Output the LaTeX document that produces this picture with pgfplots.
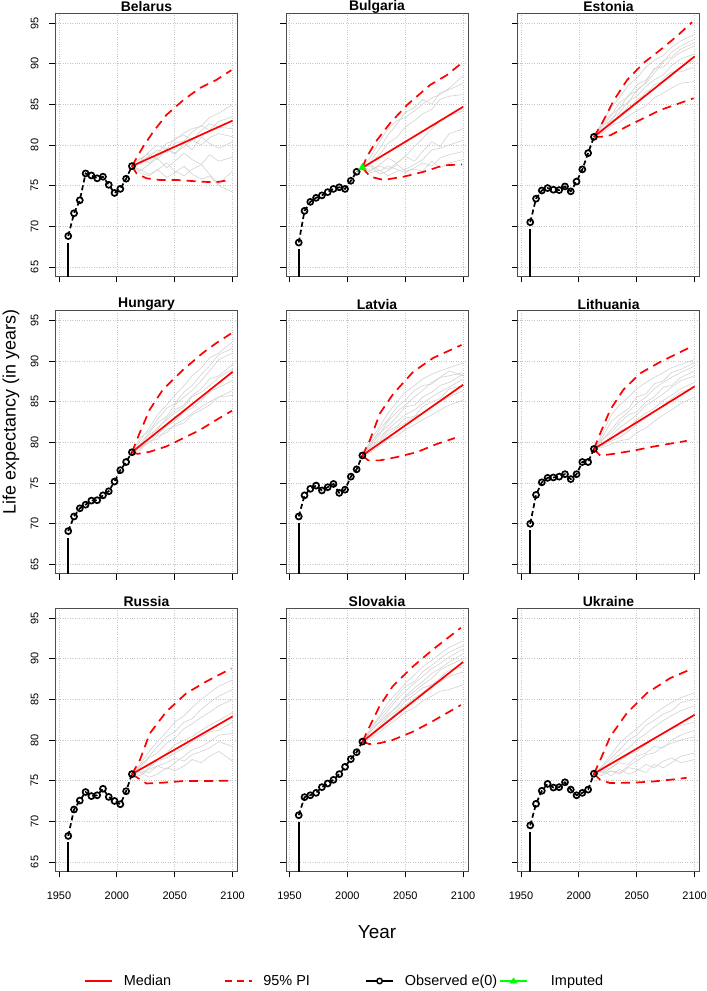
\documentclass[border=0pt]{standalone}
\usepackage{fontspec}
\setmainfont{Liberation Sans}
\usepackage{pgfplots}
\usepackage{pgfplotstable}
\pgfplotsset{compat=1.18}

\pgfplotsset{
 panel/.style={scale only axis, width=182bp, height=263bp, anchor=north west,
   xmin=1947, xmax=2104.2, ymin=63.85, ymax=96.2,
   xtick={1950,2000,2050,2100}, ytick={65,70,75,80,85,90,95},
   xticklabels={}, yticklabels={},
   tick pos=left, tick align=outside, major tick length=6bp,
   grid=major, grid style={dotted, gray!45, line width=0.7bp},
   axis line style={black!70, line width=0.8bp},
   tick style={black, line width=0.8bp},
   title style={at={(0.5,1)}, anchor=center, yshift=0.5bp, font=\bfseries\fontsize{14}{16}\selectfont},
   ticklabel style={font=\fontsize{11}{13}\selectfont}},
 leftcol/.style={yticklabels={65,70,75,80,85,90,95}, yticklabel style={xshift=-15bp, rotate=90, anchor=center}},
 bottomrow/.style={xticklabels={1950,2000,2050,2100}, xticklabel style={anchor=center, yshift=-18bp}},
 obs/.style={black, line width=1.7bp, dash pattern=on 5bp off 3bp, mark=o, mark size=3bp, mark options={solid, fill=white, line width=1.7bp}},
 vline/.style={black, line width=1.7bp},
 traj/.style={gray!35, line width=0.6bp},
 med/.style={red, line width=1.7bp},
 pi/.style={red, line width=1.7bp, dash pattern=on 9bp off 6bp},
}

% gray trajectories (x, t1..t8)
\pgfplotstableread{
x t1 t2 t3 t4 t5 t6 t7 t8
2013 77.4 77.4 77.4 77.4 77.4 77.4 77.4 77.4
2020 78.3 77.6 78.4 76.8 77.0 78.0 76.6 77.8
2028 79.0 78.6 77.8 77.6 76.4 79.2 76.2 78.8
2035 79.0 79.4 78.6 78.4 76.9 80.0 77.0 78.2
2043 80.2 79.0 79.5 77.2 77.8 79.4 76.0 79.6
2050 80.6 80.2 79.0 78.0 76.8 80.8 76.6 78.8
2058 81.5 80.5 79.8 79.0 76.2 81.2 77.4 80.2
2065 82.0 81.6 80.6 78.2 77.0 80.6 76.4 79.4
2073 82.3 82.4 80.0 77.6 77.6 81.8 75.8 81.0
2080 83.4 81.8 80.9 78.8 76.4 82.6 76.2 80.2
2088 83.9 82.9 81.4 78.0 75.2 82.2 75.0 79.6
2100 85.0 83.5 81.0 78.5 76.8 82.0 74.2 80.4
}\trBel
\pgfplotstableread{
x t1 t2 t3 t4 t5 t6 t7 t8
2013 77.2 77.2 77.2 77.2 77.2 77.2 77.2 77.2
2020 78.5 77.8 77.0 76.6 77.6 78.0 76.8 77.4
2028 80.5 78.8 77.4 76.9 76.8 79.6 77.6 76.4
2035 82.0 80.2 77.0 76.2 77.4 81.2 78.4 76.8
2043 83.0 81.0 77.8 76.8 77.0 82.6 77.8 77.6
2050 83.4 82.2 78.6 77.0 76.6 84.0 78.6 76.8
2058 84.2 83.0 79.8 77.6 77.2 84.6 78.0 77.0
2065 85.0 83.8 80.8 78.2 77.8 85.6 79.2 76.8
2073 85.8 84.4 82.0 79.4 77.4 85.0 80.4 78.0
2080 86.2 85.6 83.0 79.6 78.4 86.4 79.8 77.2
2088 87.0 86.0 83.6 80.0 78.8 86.8 81.4 77.8
2100 88.5 86.2 84.2 80.6 79.2 87.6 82.0 78.2
}\trBul
\pgfplotstableread{
x t1 t2 t3 t4 t5 t6 t7 t8
2013 81.0 81.0 81.0 81.0 81.0 81.0 81.0 81.0
2020 82.8 82.2 81.8 82.0 81.4 82.4 81.6 82.6
2028 84.6 83.6 83.2 82.6 82.4 83.0 83.0 83.8
2035 85.8 85.2 84.0 83.8 82.8 84.6 83.4 84.4
2043 87.4 86.0 85.4 84.4 83.6 85.2 84.8 86.2
2050 88.2 87.4 86.0 85.6 84.2 86.8 85.0 86.6
2058 89.6 88.0 87.2 86.2 84.8 87.6 86.6 87.8
2065 90.4 89.2 88.0 87.4 85.8 88.8 86.8 89.4
2073 91.0 90.4 88.6 87.8 86.4 90.2 88.2 89.6
2080 92.0 90.8 89.8 88.8 87.0 91.4 89.0 90.6
2088 92.8 91.8 90.6 89.6 87.6 92.2 89.0 91.4
2100 93.6 92.6 91.2 90.4 87.8 93.0 89.6 92.2
}\trEst
\pgfplotstableread{
x t1 t2 t3 t4 t5 t6 t7 t8
2013 78.8 78.8 78.8 78.8 78.8 78.8 78.8 78.8
2020 80.2 79.8 79.6 79.2 79.4 80.6 79.0 79.6
2028 81.8 81.2 80.6 80.4 80.0 81.4 80.2 81.0
2035 83.4 82.4 81.8 81.0 80.8 82.8 80.4 81.6
2043 84.6 83.2 82.8 82.0 81.2 84.2 81.6 83.0
2050 85.8 84.6 83.6 82.6 82.2 84.8 82.0 84.0
2058 87.0 85.6 84.4 83.8 82.8 86.2 82.4 84.6
2065 88.2 86.4 85.6 84.2 83.6 87.0 83.4 85.8
2073 89.2 87.6 86.2 85.2 84.4 88.4 84.0 86.6
2080 90.4 88.8 87.0 86.2 85.0 89.4 84.6 87.8
2088 91.0 90.2 88.0 86.8 85.6 90.8 85.6 88.2
2100 92.4 91.0 89.0 87.6 86.4 91.6 85.8 89.6
}\trHun
\pgfplotstableread{
x t1 t2 t3 t4 t5 t6 t7 t8
2013 78.4 78.4 78.4 78.4 78.4 78.4 78.4 78.4
2020 80.2 79.6 79.2 79.0 78.8 79.8 79.4 80.0
2028 82.0 81.0 80.6 80.0 79.6 81.6 80.2 81.2
2035 83.6 82.6 81.6 81.0 80.4 82.8 81.4 82.0
2043 85.0 83.8 82.6 81.8 80.8 84.4 82.0 83.2
2050 86.2 84.6 83.4 82.4 81.6 85.2 83.0 84.4
2058 87.0 85.6 84.0 83.2 82.2 86.4 83.2 84.6
2065 87.8 86.4 84.8 83.6 82.8 87.0 84.4 85.6
2073 88.4 87.4 85.6 84.4 83.4 87.2 85.0 86.2
2080 88.8 88.0 86.2 85.0 84.0 88.0 85.4 87.0
2088 89.2 88.2 86.8 85.6 84.6 88.8 86.6 87.4
2100 89.8 88.6 87.8 86.4 85.2 88.2 87.0 88.4
}\trLat
\pgfplotstableread{
x t1 t2 t3 t4 t5 t6 t7 t8
2013 79.2 79.2 79.2 79.2 79.2 79.2 79.2 79.2
2020 81.0 80.2 79.8 79.6 79.4 80.6 79.8 80.4
2028 83.4 81.6 80.8 80.2 79.8 82.6 80.4 81.2
2035 84.6 82.8 81.8 80.6 80.2 83.4 81.4 82.4
2043 85.6 83.8 82.6 81.4 80.4 84.2 81.8 83.4
2050 86.6 84.8 83.4 82.2 81.2 85.6 82.8 83.8
2058 87.4 85.6 84.6 83.0 81.8 86.0 83.6 85.0
2065 88.0 86.6 85.2 83.8 82.6 87.2 84.2 85.6
2073 88.6 87.4 86.0 84.6 83.4 87.6 85.2 86.8
2080 89.2 88.0 86.8 85.4 84.0 88.6 85.8 87.0
2088 89.6 88.6 87.6 86.2 84.8 89.0 86.6 88.0
2100 90.2 89.4 88.2 86.8 85.6 89.8 87.4 88.8
}\trLit
\pgfplotstableread{
x t1 t2 t3 t4 t5 t6 t7 t8
2013 75.8 75.8 75.8 75.8 75.8 75.8 75.8 75.8
2020 77.0 76.6 76.4 75.6 76.0 76.8 75.8 76.2
2028 78.6 77.8 76.8 76.4 75.4 78.0 76.6 76.0
2035 79.8 78.4 77.6 76.8 75.8 79.2 77.4 76.8
2043 81.0 79.6 78.4 76.4 76.6 80.4 77.8 77.2
2050 82.2 80.2 79.4 77.2 76.2 81.0 78.4 77.8
2058 83.0 81.4 80.0 78.0 76.8 82.2 79.0 77.4
2065 84.0 82.0 80.4 78.8 77.6 82.6 79.8 78.2
2073 85.0 82.8 81.2 79.2 77.2 83.8 80.4 78.6
2080 85.8 83.4 81.8 79.8 78.0 84.6 81.0 79.0
2088 86.6 84.2 82.4 80.6 78.6 85.4 81.2 79.8
2100 87.4 85.0 83.4 80.8 77.4 86.2 82.2 79.2
}\trRus
\pgfplotstableread{
x t1 t2 t3 t4 t5 t6 t7 t8
2013 79.8 79.8 79.8 79.8 79.8 79.8 79.8 79.8
2020 81.4 81.0 80.6 80.4 80.2 81.2 80.6 81.0
2028 83.0 82.4 81.8 81.4 81.0 82.8 81.4 82.2
2035 84.6 83.6 83.0 82.4 81.8 84.0 82.8 83.2
2043 85.8 85.0 84.2 83.4 82.6 85.4 83.6 84.0
2050 87.0 86.0 85.2 84.2 83.4 86.6 84.8 85.4
2058 88.0 87.0 86.0 85.2 84.0 87.2 85.6 86.4
2065 89.0 87.8 86.8 85.8 84.8 88.4 86.4 87.2
2073 89.8 88.8 87.6 86.8 85.4 89.2 86.8 88.2
2080 90.6 89.4 88.6 87.2 86.0 90.0 87.6 88.8
2088 91.4 90.2 89.2 87.8 86.2 90.8 88.6 89.6
2100 92.2 91.2 90.0 88.4 86.8 91.6 89.0 90.6
}\trSlo
\pgfplotstableread{
x t1 t2 t3 t4 t5 t6 t7 t8
2013 75.85 75.85 75.85 75.85 75.85 75.85 75.85 75.85
2020 76.8 76.4 76.2 75.6 76.2 76.6 75.8 76.0
2028 78.2 77.4 76.6 76.2 75.6 77.8 76.6 76.2
2035 79.6 78.2 77.4 76.0 76.4 78.8 77.2 75.8
2043 80.6 79.0 78.2 76.8 75.8 80.0 77.0 76.6
2050 81.4 80.0 78.6 77.4 76.2 80.6 78.0 76.4
2058 82.4 80.8 79.4 78.2 77.0 81.8 78.4 76.0
2065 83.2 81.6 80.2 78.4 76.6 82.4 79.2 77.0
2073 84.0 82.4 80.8 79.2 77.4 83.2 79.0 76.6
2080 84.6 83.0 81.4 79.6 77.8 83.6 80.0 77.2
2088 85.2 83.6 81.8 80.0 77.2 84.6 80.6 78.0
2100 85.8 84.2 82.2 80.4 77.6 85.0 81.2 78.4
}\trUkr

\begin{document}
\begin{tikzpicture}
\useasboundingbox (0,0) rectangle (707bp,991bp);

% ---------- Belarus
\begin{axis}[panel, leftcol, at={(55.5bp,977.7bp)}, title={Belarus}]
\pgfplotsinvokeforeach{t1,t2,t3,t4,t5,t6,t7,t8}{\addplot[traj] table[x=x,y=#1]{\trBel};}
\addplot[vline] coordinates {(1958,60) (1958,68.0)};
\addplot[obs] coordinates {(1958,68.8)(1963,71.6)(1968,73.2)(1973,76.5)(1978,76.25)(1983,75.9)(1988,76.1)(1993,75.1)(1998,74.1)(2003,74.6)(2008,75.85)(2013,77.4)};
\addplot[pi] coordinates {(2013,77.4)(2022.7,79.8)(2031.3,81.6)(2042.8,83.7)(2057.2,85.5)(2071.6,87.0)(2085.9,88.0)(2098.9,89.2)};
\addplot[pi] coordinates {(2013,77.4)(2017,76.5)(2025.6,75.9)(2037,75.7)(2051.4,75.7)(2071.6,75.5)(2085,75.4)(2097.4,75.7)};
\addplot[med] coordinates {(2013,77.4)(2100,83.0)};
\end{axis}

% ---------- Bulgaria
\begin{axis}[panel, at={(286bp,977.7bp)}, title={Bulgaria}]
\pgfplotsinvokeforeach{t1,t2,t3,t4,t5,t6,t7,t8}{\addplot[traj] table[x=x,y=#1]{\trBul};}
\addplot[vline] coordinates {(1958,60) (1958,67.2)};
\addplot[obs] coordinates {(1958,68.0)(1963,71.9)(1968,73.0)(1973,73.5)(1978,73.8)(1983,74.2)(1988,74.6)(1993,74.8)(1998,74.6)(2003,75.6)(2008,76.7)};
\addplot[green, line width=1.7bp, mark=triangle*, mark indices={2}, mark size=3.2bp, mark options={fill=green}] coordinates {(2008,76.7)(2013,77.2)};
\addplot[pi] coordinates {(2013,77.2)(2017,78.6)(2025.6,80.6)(2037,82.7)(2051.4,84.9)(2071.6,87.4)(2086,88.6)(2098.9,90.1)};
\addplot[pi] coordinates {(2013,77.2)(2019.8,76.1)(2031.3,75.7)(2048.6,76.1)(2065.8,76.7)(2083,77.5)(2098.9,77.6)};
\addplot[med] coordinates {(2013,77.2)(2100,84.7)};
\end{axis}

% ---------- Estonia
\begin{axis}[panel, at={(517.5bp,977.7bp)}, title={Estonia}]
\pgfplotsinvokeforeach{t1,t2,t3,t4,t5,t6,t7,t8}{\addplot[traj] table[x=x,y=#1]{\trEst};}
\addplot[vline] coordinates {(1958,60) (1958,69.7)};
\addplot[obs] coordinates {(1958,70.5)(1963,73.4)(1968,74.4)(1973,74.7)(1978,74.5)(1983,74.45)(1988,74.9)(1993,74.3)(1998,75.5)(2003,77.0)(2008,79.0)(2013,81.0)};
\addplot[pi] coordinates {(2013,81.0)(2020.1,82.7)(2030.2,85.5)(2041.7,88.0)(2056,90.1)(2070.4,91.7)(2084.8,93.4)(2097.7,95.1)};
\addplot[pi] coordinates {(2013,81.0)(2018.7,81.0)(2027.3,81.2)(2041.7,82.3)(2056,83.3)(2070.4,84.3)(2099.1,85.75)};
\addplot[med] coordinates {(2013,81.0)(2100,90.9)};
\end{axis}

% ---------- Hungary
\begin{axis}[panel, leftcol, at={(55.5bp,680.2bp)}, title={Hungary}]
\pgfplotsinvokeforeach{t1,t2,t3,t4,t5,t6,t7,t8}{\addplot[traj] table[x=x,y=#1]{\trHun};}
\addplot[vline] coordinates {(1958,60) (1958,68.3)};
\addplot[obs] coordinates {(1958,69.1)(1963,70.9)(1968,71.9)(1973,72.35)(1978,72.85)(1983,72.9)(1988,73.5)(1993,74.0)(1998,75.2)(2003,76.6)(2008,77.6)(2013,78.8)};
\addplot[pi] coordinates {(2013,78.8)(2019.5,81.1)(2028.2,84.0)(2039.7,86.5)(2056.9,88.9)(2074.1,91.0)(2085.6,92.2)(2098.6,93.4)};
\addplot[pi] coordinates {(2013,78.8)(2018,78.6)(2028.2,78.85)(2042.5,79.5)(2056.9,80.5)(2071.3,81.5)(2088.5,83.0)(2099.4,83.9)};
\addplot[med] coordinates {(2013,78.8)(2100,88.7)};
\end{axis}

% ---------- Latvia
\begin{axis}[panel, at={(286bp,680.2bp)}, title={Latvia}]
\pgfplotsinvokeforeach{t1,t2,t3,t4,t5,t6,t7,t8}{\addplot[traj] table[x=x,y=#1]{\trLat};}
\addplot[vline] coordinates {(1958,60) (1958,70.1)};
\addplot[obs] coordinates {(1958,70.9)(1963,73.5)(1968,74.3)(1973,74.7)(1978,74.1)(1983,74.5)(1988,74.9)(1993,73.8)(1998,74.2)(2003,75.8)(2008,76.7)(2013,78.4)};
\addplot[pi] coordinates {(2013,78.4)(2019.5,80.3)(2028.2,83.6)(2039.7,86.0)(2056.9,88.7)(2074.1,90.4)(2098.6,92.0)};
\addplot[pi] coordinates {(2013,78.4)(2018,77.8)(2028.2,77.8)(2042.5,78.2)(2059.8,78.8)(2077,79.8)(2092.8,80.55)};
\addplot[med] coordinates {(2013,78.4)(2100,87.1)};
\end{axis}

% ---------- Lithuania
\begin{axis}[panel, at={(517.5bp,680.2bp)}, title={Lithuania}]
\pgfplotsinvokeforeach{t1,t2,t3,t4,t5,t6,t7,t8}{\addplot[traj] table[x=x,y=#1]{\trLit};}
\addplot[vline] coordinates {(1958,60) (1958,69.2)};
\addplot[obs] coordinates {(1958,70.0)(1963,73.55)(1968,75.1)(1973,75.65)(1978,75.7)(1983,75.8)(1988,76.1)(1993,75.5)(1998,76.1)(2003,77.6)(2008,77.6)(2013,79.2)};
\addplot[pi] coordinates {(2013,79.2)(2018.4,81.1)(2027,84.0)(2038.5,86.5)(2052.9,88.5)(2070.1,89.9)(2097.4,91.8)};
\addplot[pi] coordinates {(2013,79.2)(2018.4,78.4)(2029.9,78.6)(2047.1,79.0)(2064.4,79.5)(2093.1,80.2)};
\addplot[med] coordinates {(2013,79.2)(2100,86.9)};
\end{axis}

% ---------- Russia
\begin{axis}[panel, leftcol, bottomrow, at={(55.5bp,382.7bp)}, title={Russia}]
\pgfplotsinvokeforeach{t1,t2,t3,t4,t5,t6,t7,t8}{\addplot[traj] table[x=x,y=#1]{\trRus};}
\addplot[vline] coordinates {(1958,60) (1958,67.4)};
\addplot[obs] coordinates {(1958,68.2)(1963,71.45)(1968,72.55)(1973,73.6)(1978,73.1)(1983,73.2)(1988,74.0)(1993,73.0)(1998,72.5)(2003,72.1)(2008,73.7)(2013,75.8)};
\addplot[pi] coordinates {(2013,75.8)(2019.8,77.5)(2028.4,80.8)(2042.8,83.5)(2060,85.75)(2077.3,87.2)(2098.9,88.8)};
\addplot[pi] coordinates {(2013,75.8)(2018.4,75.3)(2025.6,74.65)(2040,74.75)(2057.2,74.95)(2077.3,74.95)(2098.9,75.0)};
\addplot[med] coordinates {(2013,75.8)(2100,82.9)};
\end{axis}

% ---------- Slovakia
\begin{axis}[panel, bottomrow, at={(286bp,382.7bp)}, title={Slovakia}]
\pgfplotsinvokeforeach{t1,t2,t3,t4,t5,t6,t7,t8}{\addplot[traj] table[x=x,y=#1]{\trSlo};}
\addplot[vline] coordinates {(1958,60) (1958,69.95)};
\addplot[obs] coordinates {(1958,70.75)(1963,72.97)(1968,73.2)(1973,73.5)(1978,74.2)(1983,74.65)(1988,75.1)(1993,75.8)(1998,76.7)(2003,77.65)(2008,78.5)(2013,79.8)};
\addplot[pi] coordinates {(2013,79.8)(2019,81.6)(2027.6,84.1)(2039.1,86.6)(2056.3,89.0)(2073.6,91.1)(2098,93.8)};
\addplot[pi] coordinates {(2013,79.8)(2019,79.5)(2027.6,79.6)(2039.1,80.0)(2056.3,81.0)(2073.6,82.3)(2098,84.3)};
\addplot[med] coordinates {(2013,79.8)(2100,89.6)};
\end{axis}

% ---------- Ukraine
\begin{axis}[panel, bottomrow, at={(517.5bp,382.7bp)}, title={Ukraine}]
\pgfplotsinvokeforeach{t1,t2,t3,t4,t5,t6,t7,t8}{\addplot[traj] table[x=x,y=#1]{\trUkr};}
\addplot[vline] coordinates {(1958,60) (1958,68.7)};
\addplot[obs] coordinates {(1958,69.5)(1963,72.15)(1968,73.75)(1973,74.6)(1978,74.15)(1983,74.2)(1988,74.8)(1993,73.9)(1998,73.2)(2003,73.5)(2008,73.9)(2013,75.85)};
\addplot[pi] coordinates {(2013,75.85)(2018.4,77.5)(2027,80.4)(2041.4,83.3)(2058.6,85.75)(2078.7,87.6)(2098.3,88.8)};
\addplot[pi] coordinates {(2013,75.85)(2018.4,75.1)(2027,74.7)(2047.1,74.75)(2064.4,74.9)(2081.6,75.15)(2093.1,75.35)};
\addplot[med] coordinates {(2013,75.85)(2100,83.1)};
\end{axis}

% ---------- shared labels
\node[rotate=90, font=\fontsize{18}{20}\selectfont] at (11bp,579bp) {Life expectancy (in years)};
\node[font=\fontsize{19}{21}\selectfont] at (377bp,59bp) {Year};

% ---------- legend
\begin{axis}[hide axis, scale only axis, width=707bp, height=20bp, at={(0bp,0bp)}, anchor=south west,
  xmin=0, xmax=1, ymin=0, ymax=1,
  legend columns=4,
  legend style={draw=none, fill=none, at={(84/707,0.5)}, anchor=west, inner sep=0pt,
    font=\fontsize{14.5}{16}\selectfont, nodes={inner sep=2bp},
    /tikz/column 1/.style={column sep=9bp},
    /tikz/column 2/.style={column sep=50.4bp},
    /tikz/column 3/.style={column sep=9bp},
    /tikz/column 4/.style={column sep=53.3bp},
    /tikz/column 5/.style={column sep=9bp},
    /tikz/column 6/.style={column sep=0bp},
    /tikz/column 7/.style={column sep=21bp}}]
\addlegendimage{legend image code/.code={\draw[red, line width=1.7bp] (0bp,0bp) -- (27bp,0bp);}}
\addlegendentry{Median}
\addlegendimage{legend image code/.code={\draw[red, line width=1.7bp, dash pattern=on 7bp off 5bp] (0bp,0bp) -- (27bp,0bp);}}
\addlegendentry{95\% PI}
\addlegendimage{legend image code/.code={\draw[black, line width=1.7bp] (0bp,0bp) -- (27bp,0bp); \draw[black, line width=1.5bp, fill=white] (13.5bp,0bp) circle (2.7bp);}}
\addlegendentry{Observed e(0)}
\addlegendimage{legend image code/.code={\draw[green, line width=1.7bp] (0bp,0bp) -- (27bp,0bp); \fill[green] (13.5bp,3.2bp) -- (9.8bp,-2.2bp) -- (17.2bp,-2.2bp) -- cycle;}}
\addlegendentry{Imputed}
\end{axis}
\end{tikzpicture}
\end{document}
